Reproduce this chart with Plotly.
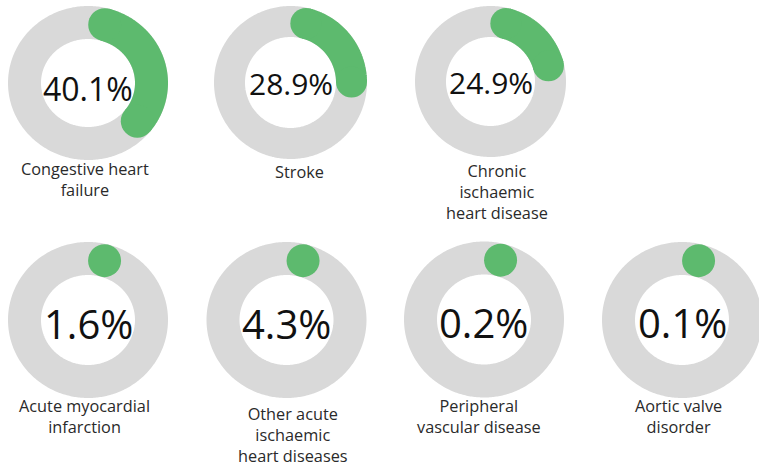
import numpy as np
import plotly.graph_objects as go

# ---- data ----
categories = ["Congestive heart failure", "Stroke", "Chronic ischaemic heart disease",
              "Acute myocardial infarction", "Other acute ischaemic heart diseases",
              "Peripheral vascular disease", "Aortic valve disorder"]
label_text = ["Congestive heart<br>failure", "Stroke", "Chronic<br>ischaemic<br>heart disease",
              "Acute myocardial<br>infarction", "Other acute<br>ischaemic<br>heart diseases",
              "Peripheral<br>vascular disease", "Aortic valve<br>disorder"]
percent = [40.1, 28.9, 24.9, 1.6, 4.3, 0.2, 0.1]

# ---- layout geometry (pixels) ----
W, H = 759, 466
# centre x, centre y, outer radius x, outer radius y, ring thickness
geom = [
    (88, 83, 80, 77, 33),
    (290.5, 82.5, 76.5, 76.5, 31),
    (490.5, 81.5, 75.5, 75.5, 31),
    (88, 320, 80, 78, 33),
    (286.5, 320, 80, 78, 33),
    (484, 319.5, 80, 78, 33),
    (682, 320, 80, 78, 33),
]
pct_font = [32, 30, 30, 40, 40, 40, 40]
pct_y = [88, 84, 82.5, 323.5, 323, 322.5, 322.5]
lab_pos = [(85, 179), (299.5, 172), (497, 192), (84.5, 416), (293, 434.5), (478.5, 416), (678, 416)]

GRAY = "#d9d9d9"
GREEN = "#5dba6e"

fig = go.Figure()
layout_axes = {}
annotations = []

for i, (cat, val) in enumerate(zip(categories, percent)):
    cx, cy, rxo, ryo, t = geom[i]
    rxm, rym = rxo - t / 2, ryo - t / 2
    ext = 4
    left, right = max(0, cx - rxo - ext), min(W, cx + rxo + ext)
    top, bottom = max(0, cy - ryo - ext), min(H, cy + ryo + ext)
    xr = [(left - cx) / rxm, (right - cx) / rxm]
    yr = [(cy - bottom) / rym, (cy - top) / rym]
    n = "" if i == 0 else str(i + 1)
    xa, ya = "x" + n, "y" + n
    layout_axes["xaxis" + n] = dict(domain=[left / W, right / W], range=xr, visible=False,
                                   fixedrange=True, anchor=ya)
    layout_axes["yaxis" + n] = dict(domain=[1 - bottom / H, 1 - top / H], range=yr, visible=False,
                                   fixedrange=True, anchor=xa)

    # grey full ring (slight overlap to close the seam)
    th = np.linspace(0, 2 * np.pi + 0.2, 400)
    fig.add_trace(go.Scatter(x=np.sin(th), y=np.cos(th), mode="lines",
                             line=dict(color=GRAY, width=t, simplify=False), xaxis=xa, yaxis=ya,
                             hoverinfo="skip", showlegend=False))

    # green arc with rounded caps (clockwise from top)
    delta = np.degrees((t / 2) / ((rxm + rym) / 2))
    a_end = val / 100 * 360 - delta
    if a_end > delta:
        a = np.radians(np.linspace(delta, a_end, 200))
        fig.add_trace(go.Scatter(x=np.sin(a), y=np.cos(a), mode="lines",
                                 line=dict(color=GREEN, width=t, simplify=False),
                                 xaxis=xa, yaxis=ya, hoverinfo="skip", showlegend=False))
        caps = np.radians([delta, a_end])
    else:
        caps = np.radians([delta])
    fig.add_trace(go.Scatter(x=np.sin(caps), y=np.cos(caps), mode="markers",
                             marker=dict(color=GREEN, size=t, line=dict(width=0)),
                             xaxis=xa, yaxis=ya, hoverinfo="skip", showlegend=False,
                             cliponaxis=False))

    annotations.append(dict(text=f"{val:.1f}%", x=cx / W, y=1 - pct_y[i] / H, xref="paper",
                            yref="paper", showarrow=False, xanchor="center", yanchor="middle",
                            font=dict(family="Open Sans", size=pct_font[i], color="#111111")))
    lx, ly = lab_pos[i]
    annotations.append(dict(text=label_text[i], x=lx / W, y=1 - ly / H, xref="paper",
                            yref="paper", showarrow=False, xanchor="center", yanchor="middle",
                            align="center",
                            font=dict(family="Open Sans", size=16.3, color="#2a2a2a")))

fig.update_layout(width=W, height=H, margin=dict(l=0, r=0, t=0, b=0),
                  paper_bgcolor="white", plot_bgcolor="rgba(0,0,0,0)",
                  annotations=annotations, **layout_axes)

fig.write_html("out.html", config={"displayModeBar": False},
               post_script="document.body.style.margin='0';")
